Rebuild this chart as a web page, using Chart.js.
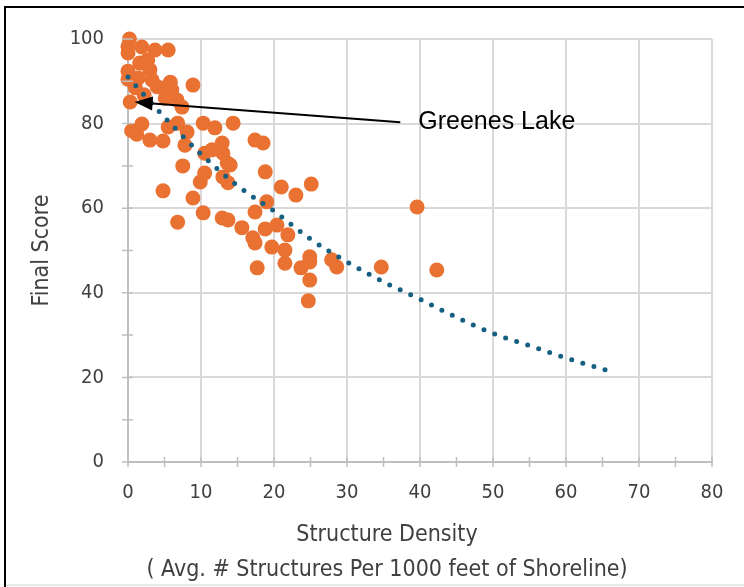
<!DOCTYPE html>
<html>
<head>
<meta charset="utf-8">
<script src="https://cdn.jsdelivr.net/npm/chart.js@4.4.1/dist/chart.umd.min.js"></script>
<style>
  html, body { margin:0; padding:0; background:#fff; }
  #wrap { width:744px; height:587px; position:relative; }
</style>
</head>
<body>
<div id="wrap"><canvas id="chart"></canvas></div>
<script>
// Lakes: structure density vs final score
const density = [0.2,0,0,1.9,3.7,5.5,0,0,1.6,2.7,3,1.4,3.3,4,4.8,5.8,6,8.9,0.3,5.1,6.7,7.4,
  0.5,1.9,1.2,3,4.8,5.5,6.8,8.1,7.8,7.5,4.8,8.9,10.3,11.9,14.4,12.9,13,10.5,11.5,13.6,14,
  10.5,9.9,13,13.7,10.3,6.8,12.9,13.7,15.6,17.4,18.5,18.8,21,23,25.1,19,17.4,17.1,17.4,
  18.8,20.4,21.9,19.7,21.5,21.5,17.7,23.7,24.9,24.9,24.9,24.7,27.9,28.6,34.7,39.6,42.3,
  1.0,2.2];
const score = [100,98.3,96.7,98.1,97.4,97.4,92.4,90.5,94.3,95,92.7,90.8,90.3,88.7,88.4,89.8,88,89.1,85.1,86,85.6,83.9,
  78.3,79.9,77.5,76.1,75.9,79.2,80.1,78,74.9,70,64.1,62.4,80.1,79,80.1,75.4,73,73,73.8,70.7,70.2,
  68.3,66.2,67.4,66,58.9,56.7,57.7,57.2,55.4,76.1,75.4,68.6,65,63.1,65.7,61.5,59.1,53,51.8,
  55.1,56,53.7,50.8,50.1,47,45.9,45.9,48.5,47.3,43,38.1,47.8,46.1,46.1,60.3,45.4,
  88.5,86.8];

// exponential trendline
const trendX = [0,5,10,15,20,25,30,35,40,45,50,55,60,66.3];
const trendY = [91,81.5,72.8,65.3,59.3,52.7,47.3,42.6,38.5,34.2,30.4,27.5,24.6,21.3];

const xMinorStep = 5;
const yMinorStep = 10;

const xTitle = ['Structure Density', '( Avg. # Structures Per 1000 feet of Shoreline)'];
const yTitle = 'Final Score';

// callout: from the label back to Greenes Lake
const callout = { text: 'Greenes Lake', from: [37.3, 80.3], to: [0.5, 85.1] };

const axisFont = "'Liberation Sans Narrow', 'DejaVu Sans Condensed', sans-serif";
const grey = '#404040';

const extras = {
  id: 'extras',
  beforeDraw(chart) {
    const c = chart.ctx;
    c.save();
    c.fillStyle = '#fff';
    c.fillRect(0, 0, chart.width, chart.height);
    c.strokeStyle = '#000';
    c.lineWidth = 2;
    c.strokeRect(5, 7, chart.width + 20, chart.height + 20);
    c.strokeStyle = '#e3e3e3';
    c.lineWidth = 1.5;
    c.beginPath(); c.moveTo(6, 585); c.lineTo(chart.width, 585); c.stroke();
    c.restore();
  },
  afterDraw(chart) {
    const c = chart.ctx, xs = chart.scales.x, ys = chart.scales.y;
    c.save();
    c.strokeStyle = '#bfbfbf';
    c.lineWidth = 1.5;
    const y0 = ys.getPixelForValue(0), x0 = xs.getPixelForValue(0);
    c.beginPath();
    for (let v = xs.min; v <= xs.max; v += xMinorStep) {
      const px = xs.getPixelForValue(v);
      c.moveTo(px, y0 - 5); c.lineTo(px, y0 + 5);
    }
    for (let v = ys.min; v <= ys.max; v += yMinorStep) {
      const py = ys.getPixelForValue(v);
      c.moveTo(x0 - 6, py); c.lineTo(x0 + 5, py);
    }
    c.stroke();

    // x axis title, two lines, sits a bit left of the plot centre
    c.fillStyle = grey;
    c.font = '23px ' + axisFont;
    c.textAlign = 'center';
    c.textBaseline = 'middle';
    c.fillText(xTitle[0], 387, 535);
    c.fillText(xTitle[1], 387, 570);

    // arrow
    const ax = xs.getPixelForValue(callout.from[0]), ay = ys.getPixelForValue(callout.from[1]);
    const bx = xs.getPixelForValue(callout.to[0]) + 3, by = ys.getPixelForValue(callout.to[1]);
    const ang = Math.atan2(by - ay, bx - ax);
    const hl = 18, hw = 7;
    const baseX = bx - hl * Math.cos(ang), baseY = by - hl * Math.sin(ang);
    c.strokeStyle = '#000';
    c.fillStyle = '#000';
    c.lineWidth = 2;
    c.beginPath(); c.moveTo(ax, ay); c.lineTo(baseX, baseY); c.stroke();
    c.beginPath();
    c.moveTo(bx, by);
    c.lineTo(baseX + hw * Math.sin(ang), baseY - hw * Math.cos(ang));
    c.lineTo(baseX - hw * Math.sin(ang), baseY + hw * Math.cos(ang));
    c.closePath(); c.fill();

    c.font = "25px 'Liberation Sans', sans-serif";
    c.textAlign = 'left';
    c.fillText(callout.text, ax + 18, ay);
    c.restore();
  }
};

new Chart(document.getElementById('chart'), {
  data: {
    datasets: [{
      type: 'line',
      data: trendX.map((x, i) => ({x: x, y: trendY[i]})),
      borderColor: '#156082',
      borderWidth: 5,
      borderDash: [0, 11.6],
      borderCapStyle: 'round',
      pointRadius: 0,
      cubicInterpolationMode: 'monotone',
      fill: false,
      clip: false,
      order: 0
    }, {
      type: 'scatter',
      data: density.map((x, i) => ({x: x, y: score[i]})),
      backgroundColor: '#E97132',
      borderWidth: 0,
      pointRadius: 7.5,
      clip: false,
      order: 1
    }]
  },
  options: {
    responsive: true,
    maintainAspectRatio: false,
    animation: false,
    layout: { padding: { top: 39, right: 32, left: 0, bottom: 0 } },
    plugins: { legend: { display: false }, tooltip: { enabled: false } },
    scales: {
      x: {
        type: 'linear', min: 0, max: 80,
        afterFit: s => { s.height = 125; },
        ticks: { stepSize: 10, padding: 19, color: grey, font: { family: axisFont, size: 20 } },
        grid: { color: '#d9d9d9', lineWidth: 2, drawTicks: false },
        border: { color: '#bfbfbf', width: 2 }
      },
      y: {
        min: 0, max: 100,
        afterFit: s => { s.width = 128; },
        ticks: { stepSize: 20, padding: 24, color: grey, font: { family: axisFont, size: 20 } },
        grid: { color: '#d9d9d9', lineWidth: 2, drawTicks: false },
        border: { color: '#bfbfbf', width: 2 },
        title: {
          display: true, text: yTitle, color: grey,
          font: { family: axisFont, size: 23, lineHeight: 1.2 },
          padding: { top: 28, bottom: 0 }
        }
      }
    }
  },
  plugins: [extras]
});
</script>
</body>
</html>
